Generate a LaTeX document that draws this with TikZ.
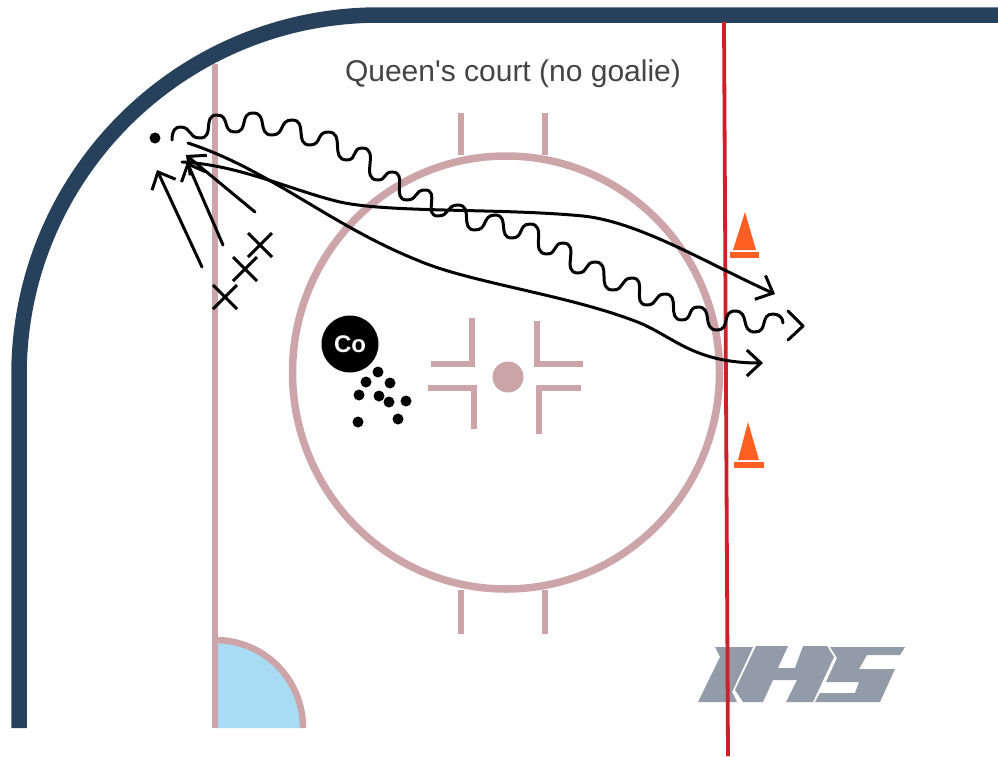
\documentclass[tikz,border=0pt]{standalone}
\usepackage{fontspec}
\setmainfont{Liberation Sans}
\newfontfamily\labelfont{Liberation Sans}
\usetikzlibrary{arrows.meta}
\definecolor{board}{HTML}{27415C}
\definecolor{rinkpink}{HTML}{CDA5A9}
\definecolor{creaseblue}{HTML}{A8DCF5}
\definecolor{redline}{HTML}{CE2029}
\definecolor{cone}{HTML}{FF5F22}
\definecolor{logo}{HTML}{919CA8}
\definecolor{labeltext}{HTML}{444444}
\tikzset{
  rinkline/.style={draw=rinkpink,line width=6.5pt},
  hashmark/.style={draw=rinkpink,line width=6pt,miter limit=10},
  playerpath/.style={draw=black,line width=3pt,line cap=round,line join=round},
  passarrow/.style={playerpath,-{Straight Barb[length=14pt,width=26pt,line width=3pt]}},
  puck/.style={circle,fill=black,inner sep=0pt,minimum size=11pt},
  xmark/.style={draw=black,line width=3pt},
  conefill/.style={fill=cone,draw=none},
  logofill/.style={fill=logo,draw=none},
  wv/.style={out=0,in=180,looseness=1.35}
}
\begin{document}
\begin{tikzpicture}[x=1pt,y=-1pt]
\useasboundingbox (0,0) rectangle (998,756);
% boards
\draw[draw=board,line width=15.5pt] (19,728) -- (19,375) .. controls (19,176) and (180,15) .. (379,15) -- (998,15);
% crease
\path[fill=creaseblue] (215,640) .. controls (264,640) and (303,679) .. (303,728) -- (215,728) -- cycle;
\draw[rinkline] (215,640) .. controls (264,640) and (303,679) .. (303,728);
% goal line
\draw[rinkline] (215,64) -- (215,728);
% circle
\draw[draw=rinkpink,line width=7.5pt] (506,372.5) ellipse [x radius=213.5,y radius=216.5];
% ticks
\draw[rinkline] (461,113) -- (461,155);
\draw[rinkline] (545,113) -- (545,155);
\draw[rinkline] (461,590) -- (461,634);
\draw[rinkline] (545,590) -- (545,634);
% hash marks
\draw[hashmark] (472,318) -- (472,364) -- (431,364);
\draw[hashmark] (428,388) -- (474,388) -- (474,429);
\draw[hashmark] (537,321) -- (537,364) -- (583,364);
\draw[hashmark] (581,388) -- (539,388) -- (539,434);
\node[circle,fill=rinkpink,inner sep=0pt,minimum size=31pt] (faceoff) at (508,377) {};
% logo
\path[logofill] (715,647) -- (753,647) -- (732,692) -- (737,702) -- (698,702) -- (720,657) -- cycle;
\path[logofill] (756,646) -- (788,646) -- (778,668) -- (795,668) -- (803,646) -- (827,646) -- (834,657) -- (813,702) -- (786,702) -- (797,680) -- (773,680) -- (763,702) -- (743,702) -- (735,690) -- cycle;
\path[logofill] (830,647) -- (905,647) -- (900,655) -- (867,655) -- (859,669) -- (895,669) -- (880,702) -- (815,702) -- (820,693) -- (855,693) -- (859,682) -- (826,682) -- (837,658) -- cycle;
% red line
\draw[draw=redline,line width=3.8pt] (724,22) -- (728,756);
% cones
\path[conefill] (745,212) -- (756,250) -- (733,250) -- cycle;
\path[conefill] (730,252) rectangle (759,258);
\path[conefill] (748,422) -- (759,460) -- (738,460) -- cycle;
\path[conefill] (734,462) rectangle (764,468);
% label
\node[text=labeltext,font=\labelfont\fontsize{30}{32}\selectfont,inner sep=0pt] (title) at (513,74) {Queen's court (no goalie)};
% coach
\node[circle,fill=black,inner sep=0pt,minimum size=57pt,text=white,font=\bfseries\fontsize{24}{26}\selectfont] (coach) at (350,344) {Co};
% pucks
\foreach \n/\p in {a/{378,372},b/{366,382},c/{390,383},d/{359,395},e/{379,396},f/{389,402},g/{406,401},h/{358,422},i/{398,419}}
  \node[puck] (puck\n) at (\p) {};
\node[puck] (startpuck) at (155,138) {};
% players
\foreach \n/\cx/\cy in {a/260/245,b/245/269,c/225/297}{
  \coordinate (x\n) at (\cx,\cy);
  \draw[xmark] (\cx-12,\cy-12) -- (\cx+12,\cy+12);
  \draw[xmark] (\cx+12,\cy-12) -- (\cx-12,\cy+12);
}
% passes
\draw[passarrow] (202,267) -- (157,170);
\draw[passarrow] (223,245) -- (187,162);
\draw[passarrow] (255,212) -- (186,155);
% curves
\draw[passarrow] (182,162) .. controls (240,165) and (290,190) .. (340,202) .. controls (390,213) and (500,208) .. (583,216) .. controls (640,222) and (710,265) .. (775,294);
\draw[passarrow] (188,143) .. controls (270,170) and (330,225) .. (417,260) .. controls (470,283) and (570,295) .. (640,323) .. controls (675,338) and (695,363) .. (763,363);
% skating wave
\draw[playerpath] (172,140) .. controls (172,130) and (176,127) .. (180,127)
  to[wv] (200,138) to[wv] (217,115) to[wv] (235,132) to[wv] (253,113) to[wv] (272,135) to[wv] (292,120) to[wv] (310,145) to[wv] (328,132) to[wv] (347,160) to[wv] (362,148) to[wv] (378,180) to[wv] (392,172) to[wv] (407,200) to[wv] (425,190) to[wv] (438,216) to[wv] (458,205) to[wv] (475,230) to[wv] (495,215) to[wv] (512,238) to[wv] (530,224) to[wv] (547,254) to[wv] (563,243) to[wv] (578,273) to[wv] (595,262) to[wv] (613,290) to[wv] (632,278) to[wv] (647,305) to[wv] (665,294) to[wv] (682,320) to[wv] (698,307) to[wv] (717,330) to[wv] (735,311) to[wv] (755,332) to[wv] (773,314) .. controls (778,314) and (783,317) .. (783,323);
\draw[playerpath] (788,311) -- (803,326) -- (788,340);
\end{tikzpicture}
\end{document}
